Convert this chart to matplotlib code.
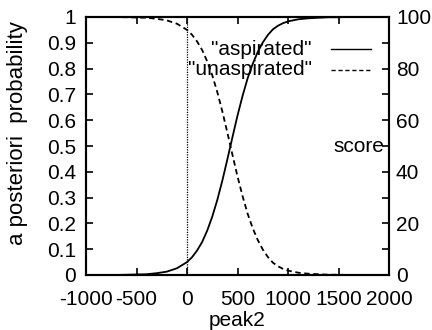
import matplotlib
matplotlib.use("Agg")
import matplotlib.pyplot as plt
from matplotlib.lines import Line2D
import matplotlib.transforms as mtransforms

plt.rcParams['font.family'] = ['Liberation Sans', 'DejaVu Sans']
plt.rcParams['axes.unicode_minus'] = False

# data
peak2 = [-1000, -900, -800, -700, -600, -500, -400, -300, -200, -100,
         0, 50, 100, 150, 200, 250, 300, 350, 400, 450, 500, 550, 600,
         650, 700, 750, 800, 850, 900, 950, 1000, 1100, 1200, 1300, 1400,
         1500, 1600, 1700, 1800, 1900, 2000]
aspirated = [0.000, 0.000, 0.000, 0.000, 0.001, 0.002, 0.003, 0.007, 0.013, 0.026,
             0.050, 0.069, 0.095, 0.128, 0.172, 0.226, 0.291, 0.366, 0.449, 0.534,
             0.618, 0.694, 0.762, 0.818, 0.864, 0.901, 0.930, 0.952, 0.966, 0.976,
             0.983, 0.991, 0.995, 0.997, 0.999, 0.999, 1.000, 1.000, 1.000, 1.000, 1.000]
unaspirated = [1.000, 1.000, 1.000, 1.000, 0.999, 0.998, 0.997, 0.993, 0.987, 0.974,
               0.950, 0.931, 0.905, 0.872, 0.828, 0.774, 0.709, 0.634, 0.551, 0.466,
               0.382, 0.306, 0.238, 0.182, 0.136, 0.099, 0.070, 0.048, 0.034, 0.024,
               0.017, 0.009, 0.005, 0.003, 0.001, 0.001, 0.000, 0.000, 0.000, 0.000, 0.000]
threshold_x = [0, 0]
threshold_y = [0, 1]

xticks = [-1000, -500, 0, 500, 1000, 1500, 2000]
xticklabels = ['-1000', '-500', '0', '500', '1000', '1500', '2000']
yticks = [0, 0.1, 0.2, 0.3, 0.4, 0.5, 0.6, 0.7, 0.8, 0.9, 1]
yticklabels = ['0', '0.1', '0.2', '0.3', '0.4', '0.5', '0.6', '0.7', '0.8', '0.9', '1']
y2ticks = [0, 20, 40, 60, 80, 100]
y2minor = [10, 30, 50, 70, 90]

FS = 15

fig = plt.figure(figsize=(4.32, 3.30), dpi=100)
ax = fig.add_axes([86/432, 55/330, (389-86)/432, (275-17)/330])

ax.plot(peak2, aspirated, color='black', lw=1.3, ls='-')
ax.plot(peak2, unaspirated, color='black', lw=1.3, ls=(0, (3, 2)))
ax.plot(threshold_x, threshold_y, color='black', lw=0.9, ls=(0, (1, 1)))

ax.set_xlim(-1000, 2000)
ax.set_ylim(0, 1)
ax.set_xticks(xticks)
ax.set_xticklabels(xticklabels)
ax.set_yticks(yticks)
ax.set_yticklabels(yticklabels)
ax.tick_params(axis='x', direction='in', length=5, width=1.2, top=True, labelsize=FS, pad=11)
ax.tick_params(axis='y', direction='in', length=5, width=1.2, labelsize=FS, pad=7)
for s in ax.spines.values():
    s.set_linewidth(1.5)

ax.set_xlabel('peak2', fontsize=FS, labelpad=1)
ax.set_ylabel('a posteriori  probability', fontsize=16)
ax.yaxis.set_label_coords(-0.19, 0.55)

ax2 = ax.twinx()
ax2.set_ylim(0, 100)
ax2.set_yticks(y2ticks)
ax2.set_yticks(y2minor, minor=True)
ax2.tick_params(axis='y', which='both', direction='in', length=5, width=1.2, labelsize=FS, pad=5)
for s in ax2.spines.values():
    s.set_linewidth(1.5)
trans = mtransforms.blended_transform_factory(ax2.transAxes, ax2.transData)
ax2.text(0.985, 50, 'score', transform=trans, ha='right', va='center', fontsize=FS)

# legend (gnuplot style: right-aligned text, sample to the right)
ax.text(0.745, 0.875, '"aspirated"', transform=ax.transAxes, ha='right', va='center', fontsize=FS)
ax.text(0.745, 0.795, '"unaspirated"', transform=ax.transAxes, ha='right', va='center', fontsize=FS)
ax.add_line(Line2D([0.81, 0.94], [0.875, 0.875], transform=ax.transAxes, color='black', lw=1.0))
ax.add_line(Line2D([0.81, 0.94], [0.795, 0.795], transform=ax.transAxes, color='black', lw=1.0, ls=(0, (3, 2))))

fig.savefig('out.png', dpi=100)
